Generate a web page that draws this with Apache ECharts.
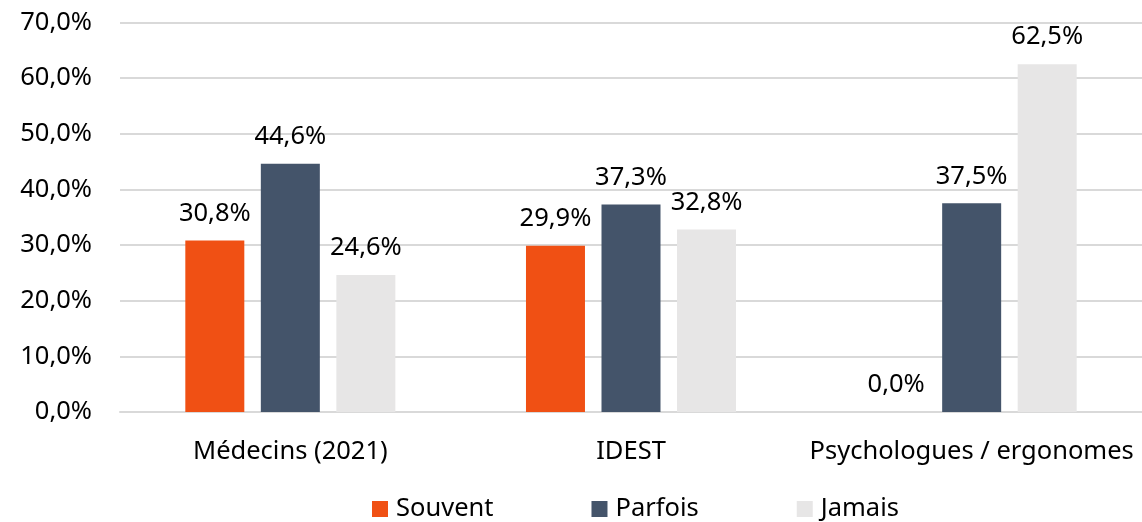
<!DOCTYPE html>
<html>
<head>
<meta charset="utf-8">
<script src="https://cdn.jsdelivr.net/npm/echarts@6/dist/echarts.min.js"></script>
<style>
  html, body { margin: 0; padding: 0; background: #fff; }
  #main { width: 1142px; height: 522px; }
</style>
</head>
<body>
<div id="main"></div>
<script>
const categories = ["Médecins (2021)", "IDEST", "Psychologues / ergonomes"];
const seriesNames = ["Souvent", "Parfois", "Jamais"];
const souvent = [30.8, 29.9, 0.0];
const parfois = [44.6, 37.3, 37.5];
const jamais = [24.6, 32.8, 62.5];
const colors = ["#F05014", "#44546A", "#E7E6E6"];

const FONT = "Noto Sans";
const SIZE = 25.5;

function pct(v) {
  return v.toFixed(1).replace(".", ",") + "%";
}

const values = [souvent, parfois, jamais];
let series = [];
for (let i = 0; i < seriesNames.length; ++i) {
  series.push({
    name: seriesNames[i],
    type: "bar",
    data: values[i],
    barWidth: 59,
    barGap: "28%",
    itemStyle: { color: colors[i] },
    label: {
      show: true,
      position: "top",
      distance: 14,
      color: "#000",
      fontFamily: FONT,
      fontSize: SIZE,
      formatter: function (p) { return pct(p.value); }
    }
  });
}

const chart = echarts.init(document.getElementById("main"));
chart.setOption({
  animation: false,
  textStyle: { fontFamily: FONT },
  grid: { left: 120, right: 0, top: 22.5, bottom: 110 },
  legend: {
    top: 496,
    left: 372,
    padding: 0,
    itemWidth: 16,
    itemHeight: 16,
    itemGap: 98,
    icon: "rect",
    textStyle: { fontFamily: FONT, fontSize: SIZE, color: "#000", padding: [0, 0, 0, 3] },
    data: seriesNames
  },
  xAxis: {
    type: "category",
    data: categories,
    axisLine: { lineStyle: { color: "#D9D9D9", width: 2 } },
    axisTick: { show: false },
    axisLabel: { interval: 0, color: "#000", fontFamily: FONT, fontSize: SIZE, margin: 27 }
  },
  yAxis: {
    type: "value",
    min: 0,
    max: 70,
    interval: 10,
    axisLine: { show: false },
    axisTick: { show: false },
    splitLine: { lineStyle: { color: "#D9D9D9", width: 2 } },
    axisLabel: {
      color: "#000",
      fontFamily: FONT,
      fontSize: SIZE,
      margin: 28,
      formatter: function (v) { return pct(v); }
    }
  },
  series: series
});
</script>
</body>
</html>
